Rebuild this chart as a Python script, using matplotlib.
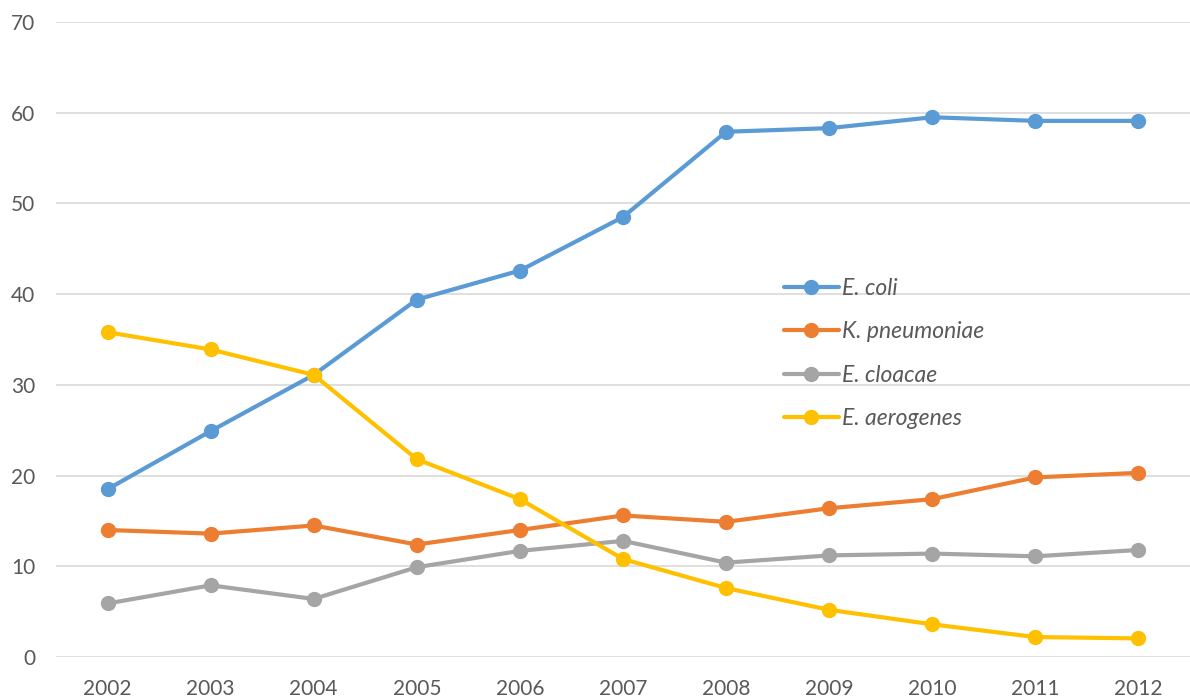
import matplotlib
matplotlib.use('Agg')
import matplotlib.pyplot as plt

years = [2002, 2003, 2004, 2005, 2006, 2007, 2008, 2009, 2010, 2011, 2012]
e_coli = [18.5, 24.9, 31.1, 39.4, 42.6, 48.5, 57.9, 58.3, 59.5, 59.1, 59.1]
k_pneumoniae = [14.0, 13.6, 14.5, 12.4, 14.0, 15.6, 14.9, 16.4, 17.4, 19.8, 20.3]
e_cloacae = [5.9, 7.9, 6.4, 9.9, 11.7, 12.8, 10.4, 11.2, 11.4, 11.1, 11.8]
e_aerogenes = [35.8, 33.9, 31.1, 21.8, 17.4, 10.8, 7.6, 5.2, 3.6, 2.2, 2.05]

names = ['E. coli', 'K. pneumoniae', 'E. cloacae', 'E. aerogenes']
colors = ['#5B9BD5', '#ED7D31', '#A5A5A5', '#FFC000']

plt.rcParams['font.family'] = ['Lato', 'DejaVu Sans']

fig = plt.figure(figsize=(11.9, 7.0), dpi=100)
ax = fig.add_axes([56/1190, 43/700, 1134/1190, 635/700])

for vals, name, col in zip([e_coli, k_pneumoniae, e_cloacae, e_aerogenes], names, colors):
    ax.plot(years, vals, color=col, lw=3.0, marker='o', markersize=10, label=name,
            solid_capstyle='round')

ax.set_xlim(2001.5, 2012.5)
ax.set_ylim(0, 70)
ax.set_xticks(years)
ax.set_yticks(range(0, 71, 10))
ax.grid(axis='y', color='#D9D9D9', lw=1.2)
ax.set_axisbelow(True)
for s in ax.spines.values():
    s.set_visible(False)
ax.tick_params(length=0, labelsize=15, colors='#595959')
ax.tick_params(axis='x', pad=16)
ax.tick_params(axis='y', pad=15)

leg = ax.legend(loc='upper left', bbox_to_anchor=(763/1190, 1 - 257/700), bbox_transform=fig.transFigure,
                frameon=False, fontsize=16.5, handlelength=2.4, labelspacing=0.98, handletextpad=0.15)
for t in leg.get_texts():
    t.set_color('#595959')
    t.set_style('italic')

fig.savefig('out.png', dpi=100)
